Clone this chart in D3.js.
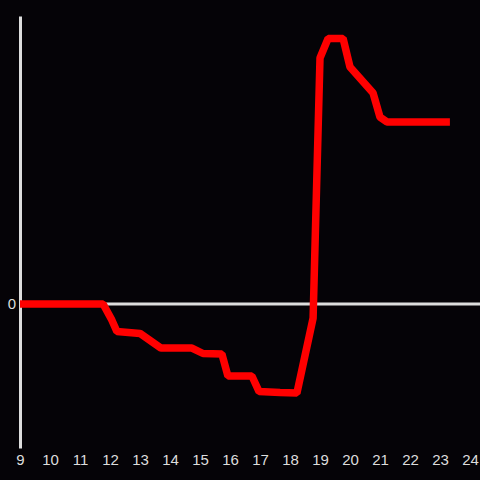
<!DOCTYPE html>
<html>
<head>
<meta charset="utf-8">
<script src="https://cdn.jsdelivr.net/npm/d3@7"></script>
<style>
  html, body { margin: 0; padding: 0; background: #050307; }
  svg { display: block; }
</style>
</head>
<body>
<div id="chart"></div>
<script>
// hours of the day
let hours = [9, 11.77, 12.06, 12.23, 13.0, 13.7, 14.73, 15.1, 15.73, 15.93, 16.73, 16.97, 17.67, 18.23, 18.77, 19.0, 19.27, 19.77, 20.0, 20.77, 21.0, 21.23, 23.33];
// series values
let values = [0, 0, -5.3, -9.2, -9.8, -14.7, -14.7, -16.5, -16.7, -24, -24, -29.2, -29.5, -29.7, -4.7, 82, 88.5, 88.5, 79, 70.3, 62.3, 60.7, 60.7];
let xTicks = [9, 10, 11, 12, 13, 14, 15, 16, 17, 18, 19, 20, 21, 22, 23, 24];
let yTicks = [0];

let width = 480, height = 480;
let margin = {top: 16, right: 10, bottom: 32, left: 20};

let svg = d3.select('#chart').append('svg')
  .attr('width', width).attr('height', height);

svg.append('rect').attr('width', width).attr('height', height).attr('fill', '#050307');

let xScale = d3.scaleLinear().domain([9, 24]).range([margin.left, width - margin.right]);
let yScale = d3.scaleLinear().domain([-48, 96]).range([height - margin.bottom, margin.top]);

// x tick labels, no axis line
let xAxis = d3.axisBottom(xScale).tickValues(xTicks).tickFormat(d3.format('d')).tickSize(0).tickPadding(6);
let gx = svg.append('g').attr('class', 'xAxis')
  .attr('transform', 'translate(' + [0, 448] + ')')
  .call(xAxis);
gx.select('.domain').remove();
gx.selectAll('text').attr('fill', '#dddddd').attr('font-size', 15).attr('font-family', 'Liberation Sans, Arial, sans-serif');

// zero line across the whole width
svg.append('line')
  .attr('x1', margin.left).attr('x2', width)
  .attr('y1', yScale(0)).attr('y2', yScale(0))
  .attr('stroke', '#dddddd').attr('stroke-width', 3);

// y axis
let yAxis = d3.axisLeft(yScale).tickValues(yTicks).tickSize(0).tickPadding(4);
let gy = svg.append('g').attr('class', 'yAxis')
  .attr('transform', 'translate(' + [margin.left, 0] + ')')
  .call(yAxis);
gy.select('.domain').attr('stroke', '#dddddd').attr('stroke-width', 3);
gy.selectAll('text').attr('fill', '#dddddd').attr('font-size', 15).attr('font-family', 'Liberation Sans, Arial, sans-serif');

let line = d3.line()
  .x((d, i) => xScale(hours[i]))
  .y(d => yScale(d));

svg.append('path')
  .datum(values)
  .attr('d', line)
  .attr('fill', 'none')
  .attr('stroke', '#ff0000')
  .attr('stroke-width', 7.5)
  .attr('stroke-linejoin', 'bevel');
</script>
</body>
</html>
